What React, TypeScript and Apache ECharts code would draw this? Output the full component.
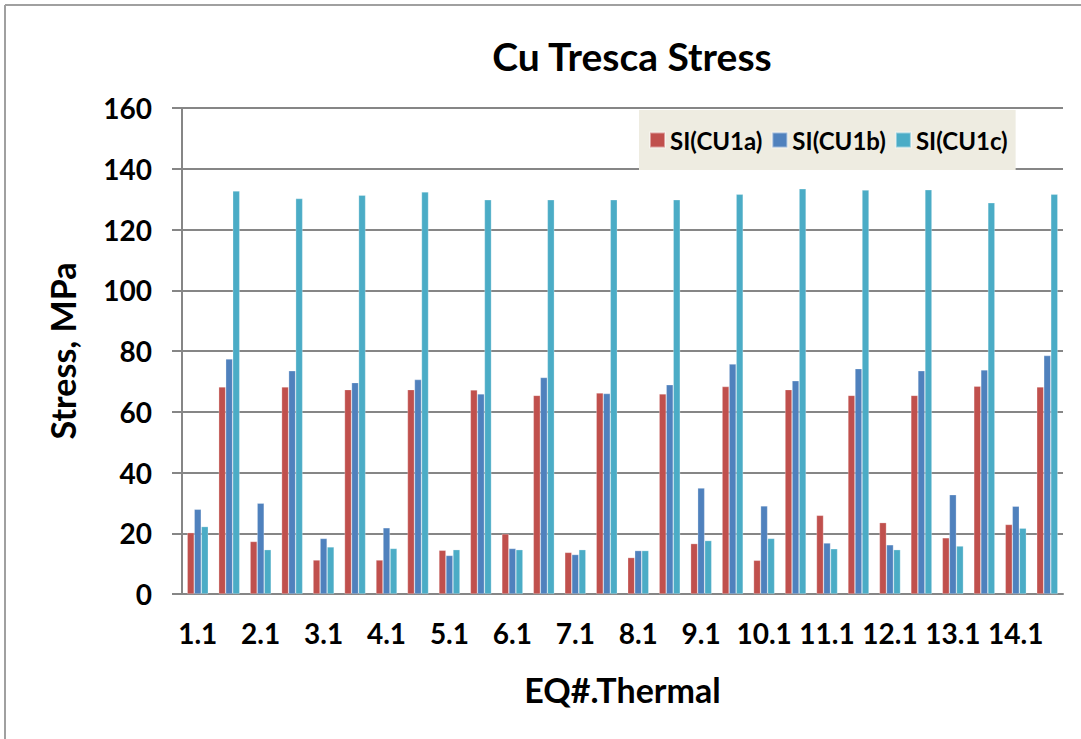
import React, { useEffect, useRef } from 'react';
import * as echarts from 'echarts';

const categories = [
  '1.1', '1.2', '2.1', '2.2', '3.1', '3.2', '4.1', '4.2', '5.1', '5.2',
  '6.1', '6.2', '7.1', '7.2', '8.1', '8.2', '9.1', '9.2', '10.1', '10.2',
  '11.1', '11.2', '12.1', '12.2', '13.1', '13.2', '14.1', '14.2',
];
const seriesNames = ['SI(CU1a)', 'SI(CU1b)', 'SI(CU1c)'];
const siCU1a = [20.2, 68.2, 17.3, 68.2, 11.2, 67.3, 11.2, 67.3, 14.4, 67.2, 19.8, 65.4, 13.7, 66.2, 12.0, 65.9, 16.6, 68.3, 11.1, 67.3, 25.9, 65.4, 23.5, 65.4, 18.5, 68.4, 22.9, 68.2];
const siCU1b = [27.9, 77.4, 29.9, 73.5, 18.3, 69.6, 21.8, 70.6, 12.7, 65.9, 15.0, 71.3, 13.0, 66.0, 14.3, 68.9, 34.9, 75.7, 29.0, 70.2, 16.8, 74.2, 16.2, 73.5, 32.7, 73.8, 28.9, 78.5];
const siCU1c = [22.2, 132.7, 14.6, 130.2, 15.5, 131.3, 15.0, 132.4, 14.6, 129.8, 14.6, 129.8, 14.6, 129.8, 14.3, 129.8, 17.6, 131.6, 18.3, 133.4, 14.9, 133.0, 14.6, 133.1, 15.8, 128.8, 21.7, 131.6];
const colors = ['#C0504D', '#4F81BD', '#4BACC6'];
const yMin = 0;
const yMax = 160;
const yInterval = 20;

const FONT = 'Lato';

export default function App() {
  const ref = useRef<HTMLDivElement>(null);
  useEffect(() => {
    if (!ref.current) return;
    const chart = echarts.init(ref.current, undefined, { renderer: 'svg' });
    const data = [siCU1a, siCU1b, siCU1c];
    chart.setOption({
      animation: false,
      backgroundColor: '#ffffff',
      title: {
        text: 'Cu Tresca Stress',
        left: 627,
        textAlign: 'center',
        top: 31,
        textStyle: { fontFamily: FONT, fontWeight: 'bold', fontSize: 39, color: '#000' },
      },
      legend: {
        left: 639,
        top: 110,
        orient: 'horizontal',
        backgroundColor: '#EEECE1',
        padding: [17, 8, 17, 10],
        itemWidth: 15,
        itemHeight: 15,
        itemGap: 9,
        icon: 'rect',
        textStyle: { fontFamily: FONT, fontWeight: 'bold', fontSize: 24, color: '#000', lineHeight: 26 },
        data: seriesNames,
      },
      grid: { left: 182, right: 18, top: 108, bottom: 145, containLabel: false },
      xAxis: {
        type: 'category',
        data: categories,
        name: 'EQ#.Thermal',
        nameLocation: 'middle',
        nameGap: 78,
        nameTextStyle: { fontFamily: FONT, fontWeight: 'bold', fontSize: 34, color: '#000', verticalAlign: 'top' },
        axisLine: { show: true, lineStyle: { color: '#868686', width: 2 } },
        axisTick: { show: false },
        axisLabel: {
          interval: 1,
          margin: 25,
          fontFamily: FONT,
          fontWeight: 'bold',
          fontSize: 28,
          color: '#000',
        },
      },
      yAxis: {
        type: 'value',
        min: yMin,
        max: yMax,
        interval: yInterval,
        name: 'Stress, MPa',
        nameLocation: 'middle',
        nameGap: 103,
        nameRotate: 90,
        nameTextStyle: { fontFamily: FONT, fontWeight: 'bold', fontSize: 34, color: '#000' },
        axisLine: { show: true, lineStyle: { color: '#868686', width: 2 } },
        axisTick: { show: true, inside: false, length: 10, lineStyle: { color: '#868686', width: 2 } },
        axisLabel: { margin: 30, fontFamily: FONT, fontWeight: 'bold', fontSize: 28, color: '#000' },
        splitLine: { show: true, lineStyle: { color: '#868686', width: 2 } },
      },
      series: seriesNames.map((name, i) => ({
        name,
        type: 'bar',
        data: data[i],
        barGap: '0%',
        barCategoryGap: '33%',
        itemStyle: { color: colors[i], borderColor: 'rgba(255,255,255,0.45)', borderWidth: 0.6 },
      })),
      graphic: [
        { type: 'line', shape: { x1: 5, y1: 5, x2: 1081, y2: 5 }, style: { stroke: '#a0a0a0', lineWidth: 2 } },
        { type: 'line', shape: { x1: 5, y1: 5, x2: 5, y2: 739 }, style: { stroke: '#a0a0a0', lineWidth: 2 } },
      ],
    });
    return () => chart.dispose();
  }, []);
  return (
    <div
      ref={ref}
      style={{ position: 'absolute', left: 0, top: 0, width: 1081, height: 739 }}
    />
  );
}
